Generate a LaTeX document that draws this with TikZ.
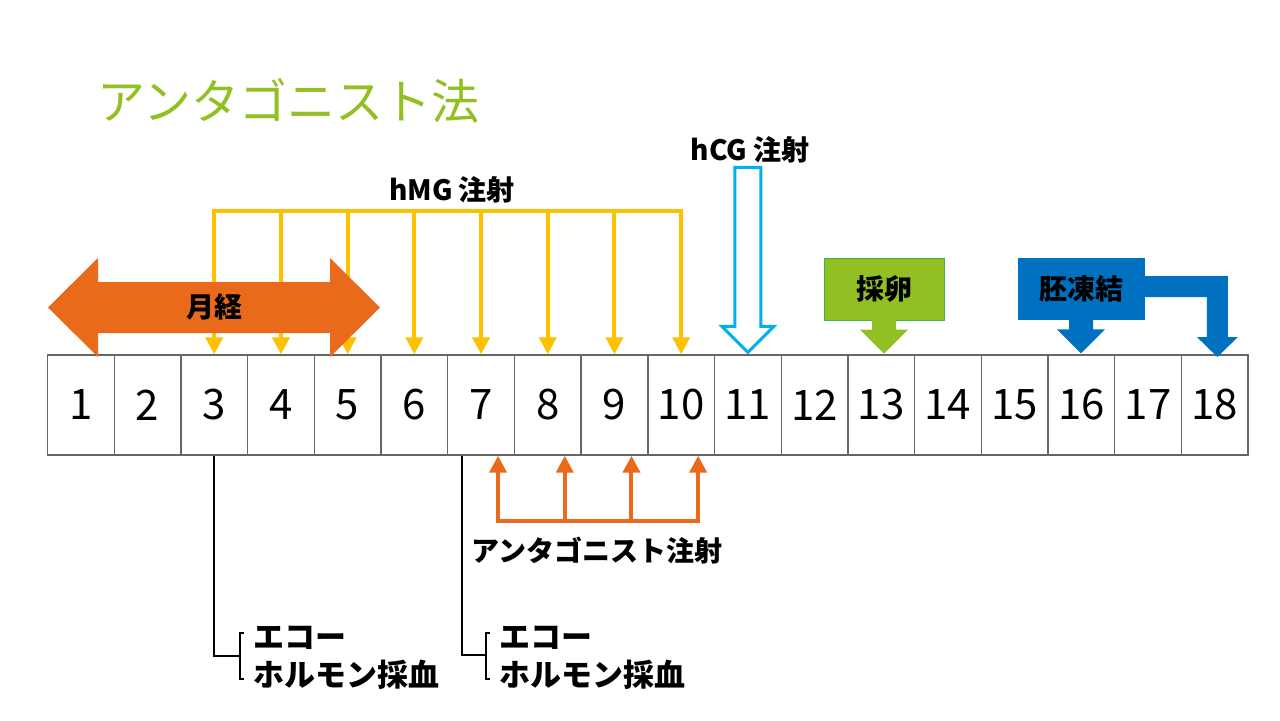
\documentclass[tikz,border=0pt]{standalone}
\usepackage{fontspec}
\setmainfont{Noto Sans CJK JP}
\usetikzlibrary{arrows.meta,calc}

\begin{document}
\begin{tikzpicture}[x=0.5pt, y=-0.5pt,
    >={Triangle[width=8.5pt,length=8.5pt]},
    % Colors
    cyellow/.style={draw={rgb,255:red,255;green,192;blue,0}},
    corange/.style={fill={rgb,255:red,232;green,106;blue,26}},
    cgreen/.style={fill={rgb,255:red,146;green,192;blue,34}},
    cblue/.style={fill={rgb,255:red,0;green,112;blue,192}},
    % Styles
    cell/.style={draw=gray!80!black, line width=0.7pt, minimum width=33.35pt, minimum height=50pt,
                 inner sep=0pt, font=\fontsize{21}{21}\selectfont},
    lbl/.style={font=\bfseries\fontsize{14}{16}\selectfont, inner sep=0pt},
    hmg/.style={->, cyellow, line width=2pt},
    hmgbar/.style={cyellow, line width=2pt, line cap=rect},
    antag/.style={->, draw={rgb,255:red,232;green,106;blue,26}, line width=2pt},
    antagbar/.style={draw={rgb,255:red,232;green,106;blue,26}, line width=2pt, line cap=rect},
    hcg/.style={draw={rgb,255:red,0;green,176;blue,240}, line width=1.5pt, fill=white},
    callout/.style={lbl, minimum height=31pt},
    echo/.style={line width=1pt},
    brk/.style={line width=0.7pt},
    echotxt/.style={font=\bfseries\fontsize{15.5}{19}\selectfont, align=left, inner sep=0pt, anchor=west},
  ]
  \useasboundingbox (0,0) rectangle (1280,720);

  % Title
  \node[anchor=west, inner sep=0pt, text={rgb,255:red,146;green,192;blue,34},
        font=\fontsize{24}{24}\selectfont] (title) at (97,101) {アンタゴニスト法};

  % Day cells
  \foreach \i in {1,...,18}
    \node[cell] (c\i) at ({47.5+(\i-0.5)*66.7},405) {\i};

  % hMG injections
  \coordinate (hmgline) at (0,211);
  \foreach \i in {3,...,10}
    \draw[hmg] (c\i.north |- hmgline) -- (c\i.north);
  \draw[hmgbar] (c3.north |- hmgline) -- (c10.north |- hmgline);
  \node[lbl] (hmglbl) at (452,190) {hMG 注射};

  % Menstruation
  \fill[corange] (48,307.5) -- (98,258) -- (98,282) -- (330,282) -- (330,258) -- (380,307.5)
    -- (330,357) -- (330,333) -- (98,333) -- (98,357) -- cycle;
  \node[lbl] (mens) at (214,307) {月経};

  % hCG injection
  \draw[hcg] ($(c11.north)+(0,-2)$) -- ++(26,-26) -- ++(-13,0) -- ++(0,-159) -- ++(-26,0)
    -- ++(0,159) -- ++(-13,0) -- cycle;
  \node[lbl] (hcglbl) at (750,150) {hCG 注射};

  % Egg retrieval
  \node[callout, cgreen, draw={rgb,255:red,60;green,180;blue,75}, line width=0.5pt,
        minimum width=60pt] (egg) at (884,289) {採卵};
  \fill[cgreen] ($(egg.south)+(-12,-1)$) -- ++(0,10) -- ++(-12,0) -- ++(24,24) -- ++(24,-24)
    -- ++(-12,0) -- ++(0,-10) -- cycle;

  % Embryo freezing
  \node[callout, cblue, minimum width=63.5pt] (frz) at (1081,289) {胚凍結};
  \fill[cblue] ($(frz.south)+(-12,-1)$) -- ++(0,10) -- ++(-12,0) -- ++(24,24) -- ++(24,-24)
    -- ++(-12,0) -- ++(0,-10) -- cycle;
  \fill[cblue] ($(frz.east)+(-1,-13)$) -- ++(84,0) -- ++(0,61) -- ++(10,0) -- ++(-20.5,20)
    -- ++(-20.5,-20) -- ++(10,0) -- ++(0,-40) -- ++(-63,0) -- cycle;

  % Antagonist injections
  \coordinate (antline) at (0,521);
  \foreach \i in {7,...,10} {
    \coordinate (a\i) at ($(c\i.south)+(17,0)$);
    \draw[antag] (a\i |- antline) -- (a\i);
  }
  \draw[antagbar] (a7 |- antline) -- (a10 |- antline);
  \node[lbl] (antlbl) at (597,551) {アンタゴニスト注射};

  % Echo / hormone checks
  \node[echotxt] (echo1) at (253,658) {エコー\\ホルモン採血};
  \draw[echo] (c3.south) |- ($(echo1.west)+(-13,-2)$);
  \draw[brk] ($(echo1.west)+(-9,-25)$) -- ++(-4,0) -- ++(0,46) -- ++(4,0);

  \node[echotxt] (echo2) at (499,658) {エコー\\ホルモン採血};
  \draw[echo] ($(c7.south)+(-19,0)$) |- ($(echo2.west)+(-13,-3)$);
  \draw[brk] ($(echo2.west)+(-9,-25)$) -- ++(-4,0) -- ++(0,46) -- ++(4,0);

\end{tikzpicture}
\end{document}
